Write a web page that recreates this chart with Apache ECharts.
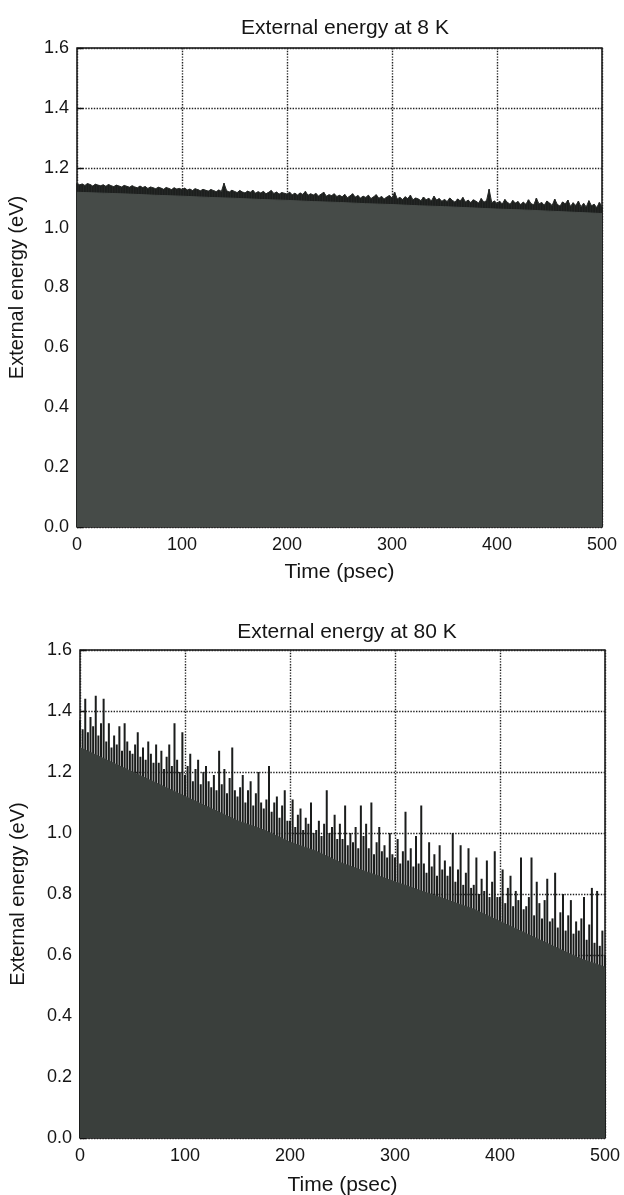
<!DOCTYPE html>
<html>
<head>
<meta charset="utf-8">
<script src="https://cdn.jsdelivr.net/npm/echarts@6/dist/echarts.min.js"></script>
<style>
  html, body { margin: 0; padding: 0; background: #fff; }
  #main { width: 624px; height: 1195px; }
</style>
</head>
<body>
<div id="main"></div>
<script>
// titles and axis texts
var titles = ['External energy at 8 K', 'External energy at 80 K']
var xName = 'Time (psec)'
var yName = 'External energy (eV)'

// sampling grid (psec): envelope every 2.5 psec, body every 25 psec
var envStep = 2.5
var bodyStep = 25

// 8 K: noisy top edge of the trace
var env8 = [
  1.148,1.143,1.146,1.141,1.147,1.144,1.139,1.145,1.142,1.140,
  1.143,1.138,1.144,1.140,1.137,1.142,1.139,1.136,1.141,1.138,
  1.135,1.140,1.136,1.133,1.139,1.134,1.137,1.131,1.136,1.133,
  1.130,1.135,1.132,1.128,1.134,1.131,1.127,1.133,1.129,1.131,
  1.127,1.132,1.126,1.129,1.124,1.130,1.127,1.123,1.128,1.125,
  1.122,1.127,1.124,1.120,1.126,1.121,1.148,1.123,1.119,1.125,
  1.121,1.117,1.124,1.119,1.116,1.122,1.118,1.125,1.115,1.120,
  1.116,1.121,1.113,1.118,1.124,1.114,1.119,1.112,1.117,1.115,
  1.112,1.118,1.110,1.115,1.109,1.116,1.111,1.121,1.108,1.113,
  1.109,1.114,1.106,1.112,1.118,1.105,1.110,1.107,1.113,1.104,
  1.108,1.103,1.111,1.100,1.106,1.113,1.102,1.107,1.099,1.105,
  1.101,1.108,1.097,1.103,1.110,1.098,1.104,1.096,1.102,1.107,
  1.099,1.118,1.096,1.101,1.094,1.103,1.097,1.108,1.093,1.099,
  1.096,1.090,1.102,1.093,1.098,1.089,1.105,1.092,1.097,1.088,
  1.094,1.087,1.099,1.091,1.085,1.096,1.089,1.101,1.086,1.092,
  1.084,1.093,1.088,1.082,1.097,1.085,1.090,1.128,1.083,1.089,
  1.081,1.088,1.079,1.094,1.084,1.078,1.091,1.082,1.087,1.077,
  1.085,1.078,1.093,1.080,1.076,1.098,1.079,1.084,1.075,1.089,
  1.082,1.074,1.095,1.077,1.072,1.086,1.079,1.092,1.071,1.083,
  1.074,1.088,1.070,1.081,1.069,1.090,1.073,1.078,1.067,1.084,
  1.070
]
// 8 K: solid body under the noisy band
var body8 = [1.118,1.115,1.112,1.108,1.105,1.101,1.098,1.094,1.091,1.087,1.084,
  1.080,1.077,1.073,1.070,1.066,1.062,1.059,1.055,1.051,1.047]

// 80 K: spikes above the dense part
var env80 = [
  1.37,1.34,1.44,1.33,1.38,1.35,1.45,1.32,1.36,1.44,
  1.30,1.36,1.28,1.32,1.29,1.35,1.27,1.36,1.30,1.27,
  1.26,1.29,1.33,1.25,1.28,1.24,1.30,1.26,1.23,1.29,
  1.23,1.27,1.21,1.25,1.29,1.22,1.36,1.24,1.20,1.33,
  1.19,1.22,1.26,1.17,1.21,1.24,1.16,1.20,1.22,1.17,
  1.15,1.19,1.14,1.27,1.16,1.21,1.13,1.18,1.28,1.14,
  1.12,1.15,1.19,1.10,1.14,1.17,1.09,1.13,1.20,1.10,
  1.08,1.11,1.22,1.07,1.10,1.12,1.05,1.09,1.14,1.04,
  1.04,1.11,1.02,1.06,1.08,1.01,1.05,1.03,1.10,1.00,
  1.01,1.04,0.99,1.03,1.14,1.00,1.02,1.06,0.98,1.03,
  0.98,1.09,0.96,1.00,0.97,1.02,0.95,1.09,0.99,1.03,
  0.95,1.10,0.93,0.97,1.02,0.94,0.96,0.92,1.00,0.93,
  0.92,0.98,0.90,0.94,1.07,0.91,0.95,0.89,0.99,0.90,
  1.09,0.90,0.87,0.97,0.89,0.93,0.86,0.96,0.88,0.91,
  0.86,0.89,1.00,0.84,0.88,0.96,0.83,0.87,0.95,0.82,
  0.83,0.92,0.80,0.85,0.81,0.91,0.79,0.84,0.94,0.79,
  0.79,0.88,0.77,0.82,0.86,0.76,0.81,0.78,0.92,0.75,
  0.76,0.79,0.92,0.73,0.84,0.77,0.72,0.78,0.85,0.71,
  0.72,0.87,0.69,0.74,0.80,0.68,0.73,0.78,0.67,0.71,
  0.68,0.72,0.79,0.65,0.70,0.82,0.64,0.81,0.63,0.68,
  0.60
]
// 80 K: dense solid part
var body80 = [1.28,1.24,1.20,1.16,1.12,1.08,1.04,1.01,0.97,0.94,0.90,
  0.87,0.84,0.81,0.78,0.75,0.71,0.67,0.63,0.59,0.56]

function pairs(vals, step) {
  return vals.map(function (v, i) { return [i * step, v] })
}

var fontFam = '"Liberation Sans", Arial, sans-serif'
var grids = [
  { left: 77, top: 48, width: 525, height: 479, xGap: 35, yGap: 50, titleTop: 13, titleX: 340 },
  { left: 80, top: 650, width: 525, height: 488, xGap: 37, yGap: 52, titleTop: 617, titleX: 342 }
]

var myChart = echarts.init(document.getElementById('main'))

var xAxes = [], yAxes = [], gridOpt = [], titleOpt = []
grids.forEach(function (g, i) {
  gridOpt.push({
    left: g.left, top: g.top, width: g.width, height: g.height,
    outerBoundsMode: 'none', containLabel: false,
    show: true, borderColor: '#111', borderWidth: 1.5, backgroundColor: '#fff'
  })
  titleOpt.push({
    text: titles[i], left: g.titleX, top: g.titleTop, textAlign: 'center',
    textStyle: { fontFamily: fontFam, fontSize: 21, fontWeight: 'normal', color: '#151515' }
  })
  xAxes.push({
    type: 'value', gridIndex: i, min: 0, max: 500, interval: 100,
    name: xName, nameLocation: 'middle', nameGap: g.xGap,
    nameTextStyle: { fontFamily: fontFam, fontSize: 21, color: '#151515' },
    axisLine: { show: false },
    axisTick: { show: false },
    axisLabel: { fontFamily: fontFam, fontSize: 18, color: '#151515', margin: 9 },
    splitLine: { show: true, lineStyle: { type: 'dotted', color: '#222', width: 1.4 } }
  })
  yAxes.push({
    type: 'value', gridIndex: i, min: 0, max: 1.6, interval: 0.2,
    name: yName, nameLocation: 'middle', nameGap: g.yGap,
    nameTextStyle: { fontFamily: fontFam, fontSize: 20, color: '#151515' },
    axisLine: { show: false },
    axisTick: { show: true, inside: true, length: 6, lineStyle: { color: '#111', width: 1.4 } },
    axisLabel: {
      fontFamily: fontFam, fontSize: 18, color: '#151515', margin: 8,
      formatter: function (v) { return v.toFixed(1) }
    },
    splitLine: { show: true, lineStyle: { type: 'dotted', color: '#222', width: 1.4 } }
  })
})

function area(data, idx, col, z) {
  return {
    type: 'line', xAxisIndex: idx, yAxisIndex: idx, data: data,
    showSymbol: false, symbol: 'none', silent: true, z: z,
    lineStyle: { color: col, width: 1 },
    areaStyle: { color: col, opacity: 1 }
  }
}

function spikes(data, idx, col, w, z) {
  return {
    type: 'bar', xAxisIndex: idx, yAxisIndex: idx, data: data,
    barWidth: w, silent: true, z: z,
    itemStyle: { color: col }
  }
}

myChart.setOption({
  animation: false,
  title: titleOpt,
  grid: gridOpt,
  xAxis: xAxes,
  yAxis: yAxes,
  series: [
    area(pairs(env8, envStep), 0, '#262927', 2),
    spikes(pairs(env8, envStep), 0, '#1c1e1d', 1.6, 2),
    area(pairs(body8, bodyStep), 0, '#464b48', 3),
    spikes(pairs(env80, envStep), 1, '#1b1d1c', 2, 2),
    area(pairs(body80, bodyStep), 1, '#3a3f3c', 3)
  ]
})
</script>
</body>
</html>
